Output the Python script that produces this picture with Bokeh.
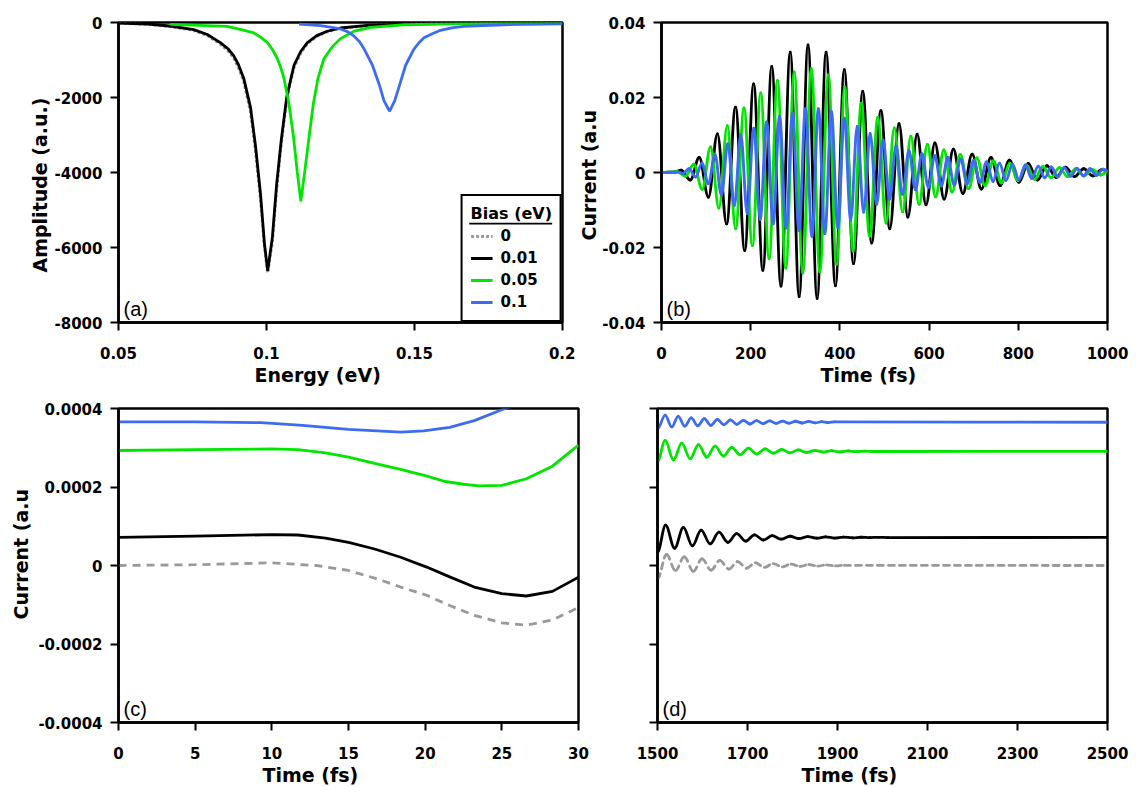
import numpy as np
from bokeh.plotting import figure
from bokeh.models import (Range1d, FixedTicker, PrintfTickFormatter, Label, ColumnDataSource, Title)
from bokeh.layouts import row, column
from bokeh.embed import file_html
from bokeh.resources import INLINE

# ---------------- data ----------------
bias_labels = ["0", "0.01", "0.05", "0.1"]

# panel (a): Fourier amplitude vs energy
energy_a_0 = [0.05, 0.06, 0.068, 0.0754, 0.08, 0.0844, 0.087, 0.0889, 0.0905, 0.0923, 0.0946, 0.0963, 0.098,
              0.0993, 0.1004, 0.102, 0.1034, 0.105, 0.1068, 0.108, 0.1093, 0.1115, 0.1138, 0.117, 0.1205,
              0.125, 0.135, 0.15, 0.17, 0.2]
amp_a_0 = [-20, -50, -115, -210, -350, -580, -760, -950, -1200, -1580, -2400, -3450, -4750,
           -6000, -6680, -5850, -4500, -3250, -2100, -1650, -1200, -830, -570, -370, -250,
           -155, -75, -38, -22, -12]
energy_a_001 = [0.05, 0.06, 0.068, 0.0754, 0.08, 0.0844, 0.087, 0.0889, 0.0905, 0.0923, 0.0946, 0.0963, 0.098,
                0.0993, 0.1004, 0.102, 0.1034, 0.105, 0.1068, 0.108, 0.1093, 0.1115, 0.1138, 0.117, 0.1205,
                0.125, 0.135, 0.15, 0.17, 0.2]
amp_a_001 = [-15, -40, -100, -190, -320, -536, -700, -881, -1120, -1485, -2262, -3298, -4593,
             -5889, -6624, -5717, -4335, -3126, -2003, -1580, -1140, -780, -536, -350, -233,
             -147, -70, -35, -20, -10]
energy_a_005 = [0.0675, 0.075, 0.0867, 0.0915, 0.0957, 0.098, 0.1003, 0.102, 0.1037, 0.1048, 0.1059, 0.1076,
                0.1091, 0.1104, 0.1116, 0.1129, 0.1144, 0.1158, 0.1174, 0.1184, 0.1194, 0.1222, 0.125, 0.1296,
                0.1352, 0.1464, 0.1612, 0.18, 0.2]
amp_a_005 = [-50, -70, -104, -190, -277, -390, -536, -720, -967, -1200, -1485, -2176,
             -3039, -3990, -4767, -3990, -3039, -2176, -1485, -1220, -967, -650, -430, -233,
             -130, -60, -34, -20, -12]
energy_a_01 = [0.111, 0.1183, 0.1215, 0.125, 0.1275, 0.1296, 0.1315, 0.133, 0.1358, 0.1381, 0.1397, 0.1416,
               0.1433, 0.145, 0.147, 0.1498, 0.1515, 0.1532, 0.156, 0.1588, 0.1625, 0.1667, 0.1802, 0.2]
amp_a_01 = [-40, -86, -125, -173, -250, -363, -520, -708, -1140, -1658, -2090, -2366,
            -2090, -1658, -1140, -708, -540, -406, -300, -207, -145, -104, -60, -35]

# panel (b): current vs time, turning points of each oscillation
time_b_001 = [0, 30, 44, 64.7, 84.6, 105.3, 125.3, 146, 165.9, 186.6, 206.6, 227.3, 247.2, 267.9, 288.6,
              308.6, 328.5, 348.9, 369, 389.9, 409.8, 430.5, 451.2, 471.2, 491.9, 511.8, 532.5, 552.4,
              573.1, 593.1, 613, 633.7, 654.4, 675.8, 696.5, 717.2, 738.6, 759.3, 780, 801.3, 822, 842.7,
              864.2, 884.8, 905.5, 926, 946.7, 967.3, 988, 1000]
cur_b_001 = [0, 0.0001, 0.0006, -0.0020, 0.0040, -0.0066, 0.0103, -0.0137, 0.0174, -0.0208, 0.0236,
             -0.0261, 0.0283, -0.0303, 0.0321, -0.0331, 0.0340, -0.0336, 0.0321, -0.0302, 0.0274,
             -0.0243, 0.0216, -0.0188, 0.0165, -0.0150, 0.0130, -0.0119, 0.0102, -0.0086, 0.0079,
             -0.0071, 0.0062, -0.0056, 0.0049, -0.0044, 0.0040, -0.0035, 0.0033, -0.0026, 0.0024,
             -0.0020, 0.0018, -0.0013, 0.0014, -0.0011, 0.0010, -0.0009, 0.0008, 0.0005]
time_b_005 = [0, 35, 53.7, 72.5, 91.2, 110, 128.7, 147.5, 166.2, 185, 203.7, 222.5, 241.2, 260, 278.7,
              297.5, 316.7, 335.9, 355, 374, 392.5, 411, 429.5, 448, 466.5, 485, 503.5, 522, 540.5,
              559, 577.5, 596, 614.5, 633, 651.5, 670, 688.5, 707, 725.5, 744, 762.5, 781, 799.5, 818,
              836.5, 855, 873.5, 892, 910.5, 929, 947.5, 966, 984.5, 1000]
cur_b_005 = [0, 0.0002, -0.0010, 0.0022, -0.0045, 0.0068, -0.0095, 0.0125, -0.0150, 0.0172, -0.0195,
             0.0212, -0.0230, 0.0245, -0.0255, 0.0268, -0.0268, 0.0277, -0.0265, 0.0260, -0.0245,
             0.0228, -0.0210, 0.0185, -0.0170, 0.0147, -0.0135, 0.0119, -0.0105, 0.0097, -0.0085,
             0.0075, -0.0065, 0.0060, -0.0052, 0.0048, -0.0043, 0.0039, -0.0035, 0.0031, -0.0028,
             0.0025, -0.0022, 0.0020, -0.0018, 0.0016, -0.0014, 0.0013, -0.0011, 0.0010, -0.0009,
             0.0008, -0.0007, 0.0002]
time_b_01 = [0, 40, 47.3, 61.8, 76.3, 90.8, 105.3, 119.8, 134.3, 148.8, 163.3, 177.8, 192.3, 206.8,
             221.3, 235.8, 250.3, 264.8, 279.3, 293.8, 308.3, 322.8, 337.3, 351.8, 366.3, 380.8, 395.3,
             409.8, 424.3, 438.8, 453.3, 467.8, 482.3, 496.8, 511.3, 525.8, 540.3, 554.8, 569.3, 583.8,
             598.3, 612.8, 627.3, 641.8, 656.3, 670.8, 685.3, 699.8, 714.3, 728.8, 743.3, 757.8, 772.3,
             786.8, 801.3, 815.8, 830.3, 844.8, 859.3, 873.8, 888.3, 902.8, 917.3, 931.8, 946.3, 960.8,
             975.3, 989.8, 1000]
cur_b_01 = [0, 0.0001, -0.0003, 0.0010, -0.0012, 0.0025, -0.0030, 0.0048, -0.0060, 0.0077, -0.0088,
            0.0100, -0.0110, 0.0118, -0.0125, 0.0135, -0.0137, 0.0150, -0.0148, 0.0159, -0.0155,
            0.0170, -0.0170, 0.0170, -0.0163, 0.0163, -0.0147, 0.0145, -0.0127, 0.0123, -0.0106,
            0.0104, -0.0085, 0.0087, -0.0071, 0.0070, -0.0058, 0.0058, -0.0046, 0.0050, -0.0040,
            0.0045, -0.0036, 0.0040, -0.0033, 0.0036, -0.0030, 0.0032, -0.0027, 0.0028, -0.0024,
            0.0025, -0.0021, 0.0022, -0.0019, 0.0020, -0.0016, 0.0017, -0.0014, 0.0015, -0.0012,
            0.0013, -0.0010, 0.0011, -0.0009, 0.0010, -0.0008, 0.0009, 0.0004]

# panel (c): early times
time_c_0 = [0, 5, 10, 12.9, 15, 16.7, 18.4, 20.1, 21.6, 23.2, 25, 26.6, 28.3, 30]
cur_c_0 = [0, 0.2e-5, 0.68e-5, 0, -1.27e-5, -3.2e-5, -5.49e-5, -7.6e-5, -10.2e-5, -12.7e-5,
           -14.6e-5, -15.2e-5, -13.9e-5, -10.7e-5]
time_c_001 = [0, 5, 10, 11.7, 13.5, 15, 16.7, 18.4, 20.1, 21.6, 23.2, 25, 26.6, 28.3, 30]
cur_c_001 = [7.18e-5, 7.5e-5, 7.86e-5, 7.77e-5, 7.0e-5, 5.91e-5, 4.2e-5, 2.11e-5, -0.4e-5, -2.9e-5,
             -5.49e-5, -7.18e-5, -7.77e-5, -6.59e-5, -2.96e-5]
time_c_005 = [0, 5, 10, 11.7, 13.5, 15, 16.7, 18.4, 20, 21.3, 22.5, 23.5, 25, 26.6, 28.3, 30]
cur_c_005 = [29.3e-5, 29.5e-5, 29.7e-5, 29.5e-5, 28.7e-5, 27.6e-5, 26.0e-5, 24.5e-5, 22.9e-5, 21.4e-5,
             20.7e-5, 20.3e-5, 20.4e-5, 22.1e-5, 25.3e-5, 30.7e-5]
time_c_01 = [0, 5, 9.3, 12, 15, 18.4, 19.9, 21.6, 23.2, 25, 25.6]
cur_c_01 = [36.6e-5, 36.6e-5, 36.4e-5, 35.7e-5, 34.7e-5, 34.0e-5, 34.3e-5, 35.2e-5, 36.9e-5, 39.7e-5, 40.5e-5]

# panel (d): late times, turning points
time_d_0 = [1500, 1520, 1540, 1559.5, 1579.5, 1599, 1619, 1638.5, 1658.5, 1678, 1698, 1717.5, 1737.5,
            1757, 1777, 1796.5, 1816.5, 1836, 1856, 1875.5, 1895.5, 1915, 2500]
cur_d_0 = [-3.4e-5, 2.8e-5, -1.3e-5, 2.2e-5, -1.5e-5, 1.7e-5, -1.2e-5, 1.3e-5, -0.9e-5, 1.0e-5, -0.7e-5,
           0.7e-5, -0.5e-5, 0.5e-5, -0.35e-5, 0.35e-5, -0.25e-5, 0.25e-5, -0.15e-5, 0.15e-5, -0.1e-5,
           0.05e-5, 0]
time_d_001 = [1500, 1518, 1538, 1557.5, 1577.5, 1597, 1617, 1636.5, 1656.5, 1676, 1696, 1715.5, 1735.5,
              1755, 1775, 1794.5, 1814.5, 1834, 1854, 1873.5, 1893.5, 1913, 1933, 1952.5, 1972.5, 1992,
              2012, 2500]
cur_d_001 = [3.4e-5, 10.3e-5, 4.4e-5, 9.7e-5, 5.0e-5, 9.0e-5, 5.5e-5, 8.5e-5, 5.9e-5, 8.1e-5, 6.2e-5,
             7.8e-5, 6.5e-5, 7.6e-5, 6.7e-5, 7.45e-5, 6.85e-5, 7.35e-5, 6.95e-5, 7.3e-5, 7.0e-5,
             7.25e-5, 7.05e-5, 7.2e-5, 7.1e-5, 7.18e-5, 7.12e-5, 7.15e-5]
time_d_005 = [1500, 1517, 1535.5, 1554, 1572.5, 1591, 1609.5, 1628, 1646.5, 1665, 1683.5, 1702, 1720.5,
              1739, 1757.5, 1776, 1794.5, 1813, 1831.5, 1850, 1868.5, 1887, 1905.5, 1924, 1942.5, 1961,
              1979.5, 2500]
cur_d_005 = [26.5e-5, 31.9e-5, 26.9e-5, 31.2e-5, 27.2e-5, 30.8e-5, 27.6e-5, 30.4e-5, 27.9e-5, 30.1e-5,
             28.2e-5, 29.9e-5, 28.4e-5, 29.7e-5, 28.6e-5, 29.55e-5, 28.7e-5, 29.45e-5, 28.8e-5,
             29.35e-5, 28.9e-5, 29.25e-5, 28.95e-5, 29.2e-5, 29.0e-5, 29.15e-5, 29.05e-5, 29.1e-5]
time_d_01 = [1500, 1517, 1531.5, 1546, 1560.5, 1575, 1589.5, 1604, 1618.5, 1633, 1647.5, 1662, 1676.5,
             1691, 1705.5, 1720, 1734.5, 1749, 1763.5, 1778, 1792.5, 1807, 1821.5, 1836, 1850.5, 1865,
             1879.5, 1894, 2500]
cur_d_01 = [34.8e-5, 38.3e-5, 35.3e-5, 38.0e-5, 35.5e-5, 37.6e-5, 35.6e-5, 37.4e-5, 35.7e-5, 37.2e-5,
            35.85e-5, 37.1e-5, 35.95e-5, 37.0e-5, 36.05e-5, 36.9e-5, 36.15e-5, 36.85e-5, 36.2e-5,
            36.8e-5, 36.25e-5, 36.75e-5, 36.3e-5, 36.7e-5, 36.35e-5, 36.65e-5, 36.4e-5, 36.6e-5, 36.5e-5]

ticks_a_x = [0.05, 0.1, 0.15, 0.2]
ticks_a_y = [-8000, -6000, -4000, -2000, 0]
ticks_b_x = [0, 200, 400, 600, 800, 1000]
ticks_b_y = [-0.04, -0.02, 0, 0.02, 0.04]
ticks_c_x = [0, 5, 10, 15, 20, 25, 30]
ticks_cd_y = [-0.0004, -0.0002, 0, 0.0002, 0.0004]
ticks_d_x = [1500, 1700, 1900, 2100, 2300, 2500]

# ---------------- styling ----------------
FONT = "DejaVu Sans"
C0, C1, C2, C3 = "#9a9a9a", "#000000", "#00e600", "#3d6cf2"
LW = 2.8


def base_fig(width, height, xr, yr, xticks, yticks, mbl, mbr, mbt, mbb, ylabels=True):
    p = figure(width=width, height=height, x_range=Range1d(*xr), y_range=Range1d(*yr),
               output_backend="svg", toolbar_location=None,
               min_border_left=mbl, min_border_right=mbr, min_border_top=mbt, min_border_bottom=mbb)
    p.grid.visible = False
    p.outline_line_color = "black"
    p.outline_line_width = 2.5
    p.outline_line_alpha = 1.0
    p.background_fill_color = "white"
    p.border_fill_color = "white"
    for ax, ticks in ((p.xaxis[0], xticks), (p.yaxis[0], yticks)):
        ax.ticker = FixedTicker(ticks=ticks, minor_ticks=[])
        ax.formatter = PrintfTickFormatter(format="%g")
        ax.axis_line_width = 2.5
        ax.major_tick_line_width = 2
        ax.major_tick_in = 0
        ax.major_tick_out = 8
        ax.minor_tick_line_color = None
        ax.major_label_text_font = FONT
        ax.major_label_text_font_style = "bold"
        ax.major_label_text_font_size = "15px"
        ax.major_label_text_color = "black"
    p.xaxis[0].major_label_standoff = 16
    p.yaxis[0].major_label_standoff = 8
    if not ylabels:
        p.yaxis[0].major_label_text_color = None
    return p


def title_below(p, text, offset, standoff):
    p.add_layout(Title(text=text, align="left", offset=offset, standoff=standoff, text_font=FONT,
                       text_font_style="bold", text_font_size="19px", text_color="black"), "below")


def title_left(p, text, offset, standoff):
    p.add_layout(Title(text=text, align="left", offset=offset, standoff=standoff, text_font=FONT,
                       text_font_style="bold", text_font_size="19px", text_color="black"), "left")


def panel_tag(p, text, x, y):
    p.add_layout(Label(x=x, y=y, x_offset=5, y_offset=3, text=text, text_font="Liberation Sans",
                       text_font_size="20px", text_baseline="bottom", text_color="black"))


def add_wave(p, t, v, color, width, dash="solid"):
    t = np.asarray(t, dtype=float)
    v = np.asarray(v, dtype=float)
    dt = t[1:] - t[:-1]
    src = ColumnDataSource(dict(x0=t[:-1], y0=v[:-1], x1=t[1:], y1=v[1:],
                                cx0=t[:-1] + 0.36 * dt, cy0=v[:-1],
                                cx1=t[1:] - 0.36 * dt, cy1=v[1:]))
    return p.bezier(x0="x0", y0="y0", x1="x1", y1="y1", cx0="cx0", cy0="cy0", cx1="cx1", cy1="cy1",
                    source=src, line_color=color, line_width=width, line_dash=dash, line_cap="round")


# ---------------- (a) ----------------
fa = base_fig(575, 390, (0.05, 0.2), (-8000, 0), ticks_a_x, ticks_a_y, 118, 13, 16, 67)
# underline of the legend title (the legend box is transparent, nothing else lies there)
fa.segment(x0=[0.1685], y0=[-5362], x1=[0.1965], y1=[-5362], line_color="black", line_width=1.6)
fa.line(energy_a_0, amp_a_0, line_color=C0, line_width=LW, line_dash="3 2", legend_label=bias_labels[0])
fa.line(energy_a_001, amp_a_001, line_color=C1, line_width=LW, legend_label=bias_labels[1])
fa.line(energy_a_005, amp_a_005, line_color=C2, line_width=LW, legend_label=bias_labels[2])
fa.line(energy_a_01, amp_a_01, line_color=C3, line_width=LW, legend_label=bias_labels[3])
lg = fa.legend[0]
lg.location = "bottom_right"
lg.margin = 0
lg.padding = 8
lg.spacing = 2
lg.glyph_width = 22
lg.glyph_height = 20
lg.label_height = 20
lg.label_standoff = 8
lg.title = "Bias (eV)"
lg.title_text_font = FONT
lg.title_text_font_style = "bold"
lg.title_text_font_size = "16px"
lg.title_text_color = "black"
lg.title_standoff = 3
lg.label_text_font = FONT
lg.label_text_font_style = "bold"
lg.label_text_font_size = "15px"
lg.label_text_color = "black"
lg.border_line_color = "black"
lg.border_line_alpha = 1.0
lg.border_line_width = 2
lg.background_fill_alpha = 0.0
title_below(fa, "Energy (eV)", 136, 0)
title_left(fa, "Amplitude (a.u.)", 50, 2)
panel_tag(fa, "(a)", 0.05, -8000)

# ---------------- (b) ----------------
fb = base_fig(559, 390, (0, 1000), (-0.04, 0.04), ticks_b_x, ticks_b_y, 83, 27, 22, 68)
add_wave(fb, time_b_001, cur_b_001, C1, 2.9)
add_wave(fb, time_b_005, cur_b_005, C2, 2.9)
add_wave(fb, time_b_01, cur_b_01, C3, 2.9)
title_below(fb, "Time (fs)", 159, 0)
title_left(fb, "Current (a.u", 82, 0)
panel_tag(fb, "(b)", 0, -0.04)

# ---------------- (c) ----------------
fc = base_fig(590, 396, (0, 30), (-0.0004, 0.0004), ticks_c_x, ticks_cd_y, 118, 12, 18, 64)
fc.line(time_c_0, cur_c_0, line_color=C0, line_width=LW, line_dash="8 6")
fc.line(time_c_001, cur_c_001, line_color=C1, line_width=LW)
fc.line(time_c_005, cur_c_005, line_color=C2, line_width=LW)
fc.line(time_c_01, cur_c_01, line_color=C3, line_width=LW)
title_below(fc, "Time (fs)", 144, 0)
title_left(fc, "Current (a.u", 103, 7)
panel_tag(fc, "(c)", 0, -0.0004)

# ---------------- (d) ----------------
fd = base_fig(544, 396, (1500, 2500), (-0.0004, 0.0004), ticks_d_x, ticks_cd_y, 67, 27, 18, 64, ylabels=False)
add_wave(fd, time_d_0, cur_d_0, C0, LW, dash="6 5")
add_wave(fd, time_d_001, cur_d_001, C1, LW)
add_wave(fd, time_d_005, cur_d_005, C2, LW)
add_wave(fd, time_d_01, cur_d_01, C3, LW)
title_below(fd, "Time (fs)", 144, 0)
panel_tag(fd, "(d)", 1500, -0.0004)

layout = column(row(fa, fb), row(fc, fd))
open("out.html", "w").write(file_html(layout, INLINE))
